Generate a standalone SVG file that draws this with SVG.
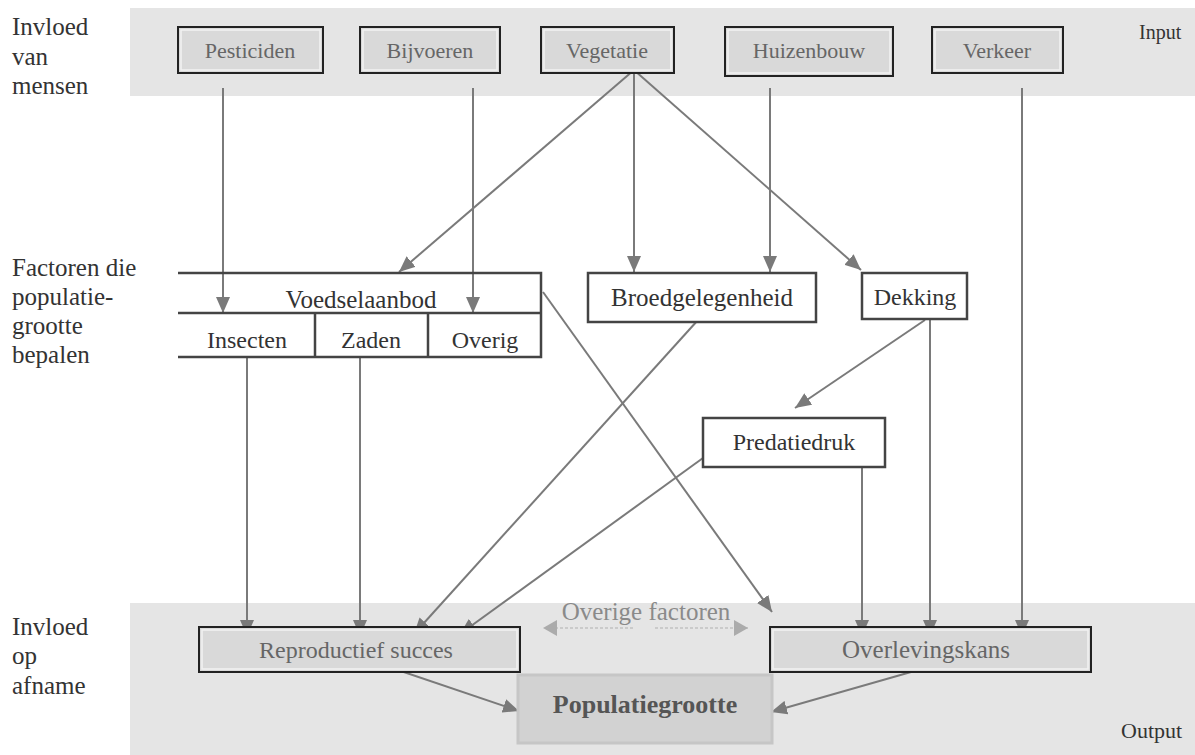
<svg xmlns="http://www.w3.org/2000/svg" width="1195" height="755" viewBox="0 0 1195 755">
<defs>
<marker id="ah" viewBox="0 0 16 14" refX="16" refY="7" markerWidth="16" markerHeight="14" markerUnits="userSpaceOnUse" orient="auto"><path d="M0,0 L16,7 L0,14 z" fill="#7a7a7a"/></marker>
<marker id="ahl" viewBox="0 0 14 16" refX="14" refY="8" markerWidth="14" markerHeight="16" markerUnits="userSpaceOnUse" orient="auto"><path d="M0,0 L14,8 L0,16 z" fill="#ababab"/></marker>
</defs>
<style>
text{font-family:"Liberation Serif","Times New Roman",serif;}
.lab{font-size:25px;fill:#333;}
.small{font-size:20px;fill:#333;}
.gbox{fill:#d9d9d9;stroke:#222;stroke-width:2;}
.inner{fill:none;stroke:#f2f2f2;stroke-width:1.5;}
.gt{font-size:22px;fill:#666;text-anchor:middle;}
.gb{font-size:24px;fill:#666;text-anchor:middle;}
.wbox{fill:#fff;stroke:#444;stroke-width:2.5;}
.wt{font-size:24px;fill:#333;text-anchor:middle;}
.ln{stroke:#444;stroke-width:2.5;fill:none;}
.c{stroke:#7a7a7a;stroke-width:2;fill:none;marker-end:url(#ah);}
.d{stroke:#b0b0b0;stroke-width:1.2;stroke-dasharray:3 2;fill:none;marker-end:url(#ahl);}
</style>
<rect width="1195" height="755" fill="#fff"/>
<rect x="130" y="8" width="1065" height="88" fill="#e5e5e5"/>
<rect x="130" y="603" width="1065" height="152" fill="#e5e5e5"/>
<g id="labels">
<text class="lab" x="12" y="35">Invloed</text>
<text class="lab" x="12" y="65">van</text>
<text class="lab" x="12" y="94">mensen</text>
<text class="lab" x="12" y="276">Factoren die</text>
<text class="lab" x="12" y="305">populatie-</text>
<text class="lab" x="12" y="334">grootte</text>
<text class="lab" x="12" y="363">bepalen</text>
<text class="lab" x="12" y="635">Invloed</text>
<text class="lab" x="12" y="664">op</text>
<text class="lab" x="12" y="694">afname</text>
<text class="small" x="1139" y="39">Input</text>
<text x="1121" y="738" font-size="22" fill="#333">Output</text>
</g>
<g id="connectors">
<path class="c" d="M223,88 L223,313"/>
<path class="c" d="M473,88 L473,313"/>
<path class="c" d="M634,70 L399,272"/>
<path class="c" d="M634,70 L634,272"/>
<path class="c" d="M634,70 L861,270"/>
<path class="c" d="M770,88 L770,272"/>
<path class="c" d="M1022,88 L1022,636"/>
<path class="c" d="M543,292 L772,612"/>
<path class="c" d="M247,357 L247,636"/>
<path class="c" d="M360,357 L360,636"/>
<path class="c" d="M698,320 L414,634"/>
<path class="c" d="M703,458 L460,634"/>
<path class="c" d="M862,467 L862,636"/>
<path class="c" d="M930,319 L930,636"/>
<path class="c" d="M925,320 L795,408"/>
<path class="c" d="M383,665 L519,711"/>
<path class="c" d="M953,660 L771,712"/>
<path class="d" d="M633,628 L543,628"/>
<path class="d" d="M655,628 L748,628"/>
</g>
<g id="pesticiden"><rect class="gbox" x="178" y="27" width="145" height="46"/><rect class="inner" x="181" y="30" width="139" height="40"/><text class="gt" x="250" y="58">Pesticiden</text></g>
<g id="bijvoeren"><rect class="gbox" x="360" y="27" width="140" height="46"/><rect class="inner" x="363" y="30" width="134" height="40"/><text class="gt" x="430" y="58">Bijvoeren</text></g>
<g id="vegetatie"><rect class="gbox" x="541" y="27" width="133" height="46"/><rect class="inner" x="544" y="30" width="127" height="40"/><text class="gt" x="607" y="58">Vegetatie</text></g>
<g id="huizenbouw"><rect class="gbox" x="725" y="27" width="168" height="49"/><rect class="inner" x="728" y="30" width="162" height="43"/><text class="gt" x="809" y="58">Huizenbouw</text></g>
<g id="verkeer"><rect class="gbox" x="932" y="27" width="131" height="46"/><rect class="inner" x="935" y="30" width="125" height="40"/><text class="gt" x="997" y="58">Verkeer</text></g>
<g id="voedselaanbod">
<path class="ln" d="M178,273 L541,273 L541,357 L178,357 M178,313 L541,313 M315,313 L315,357 M428,313 L428,357"/>
<text class="wt" x="361" y="308" font-size="25" style="font-size:25px">Voedselaanbod</text>
<text class="wt" x="247" y="348">Insecten</text>
<text class="wt" x="371" y="348">Zaden</text>
<text class="wt" x="485" y="348">Overig</text>
</g>
<g id="broedgelegenheid"><rect class="wbox" x="588" y="273" width="228" height="49"/><text class="wt" x="702" y="306" style="font-size:25px">Broedgelegenheid</text></g>
<g id="dekking"><rect class="wbox" x="862" y="273" width="105" height="46"/><text class="wt" x="915" y="305">Dekking</text></g>
<g id="predatiedruk"><rect class="wbox" x="703" y="418" width="182" height="49"/><text class="wt" x="794" y="450">Predatiedruk</text></g>
<g id="overige"><text x="646" y="620" font-size="25" fill="#8a8a8a" text-anchor="middle">Overige factoren</text></g>
<g id="reproductief"><rect class="gbox" x="199" y="627" width="321" height="45"/><rect class="inner" x="202" y="630" width="315" height="39"/><text class="gb" x="356" y="658">Reproductief succes</text></g>
<g id="overlevingskans"><rect class="gbox" x="770" y="627" width="321" height="45"/><rect class="inner" x="773" y="630" width="315" height="39"/><text class="gb" x="926" y="658" style="font-size:25px">Overlevingskans</text></g>
<g id="populatiegrootte"><rect x="518" y="675" width="254" height="68" fill="#d2d2d2" stroke="#c6c6c6" stroke-width="3"/><text x="645" y="713" font-size="26" font-weight="bold" fill="#555" text-anchor="middle">Populatiegrootte</text></g>
</svg>
